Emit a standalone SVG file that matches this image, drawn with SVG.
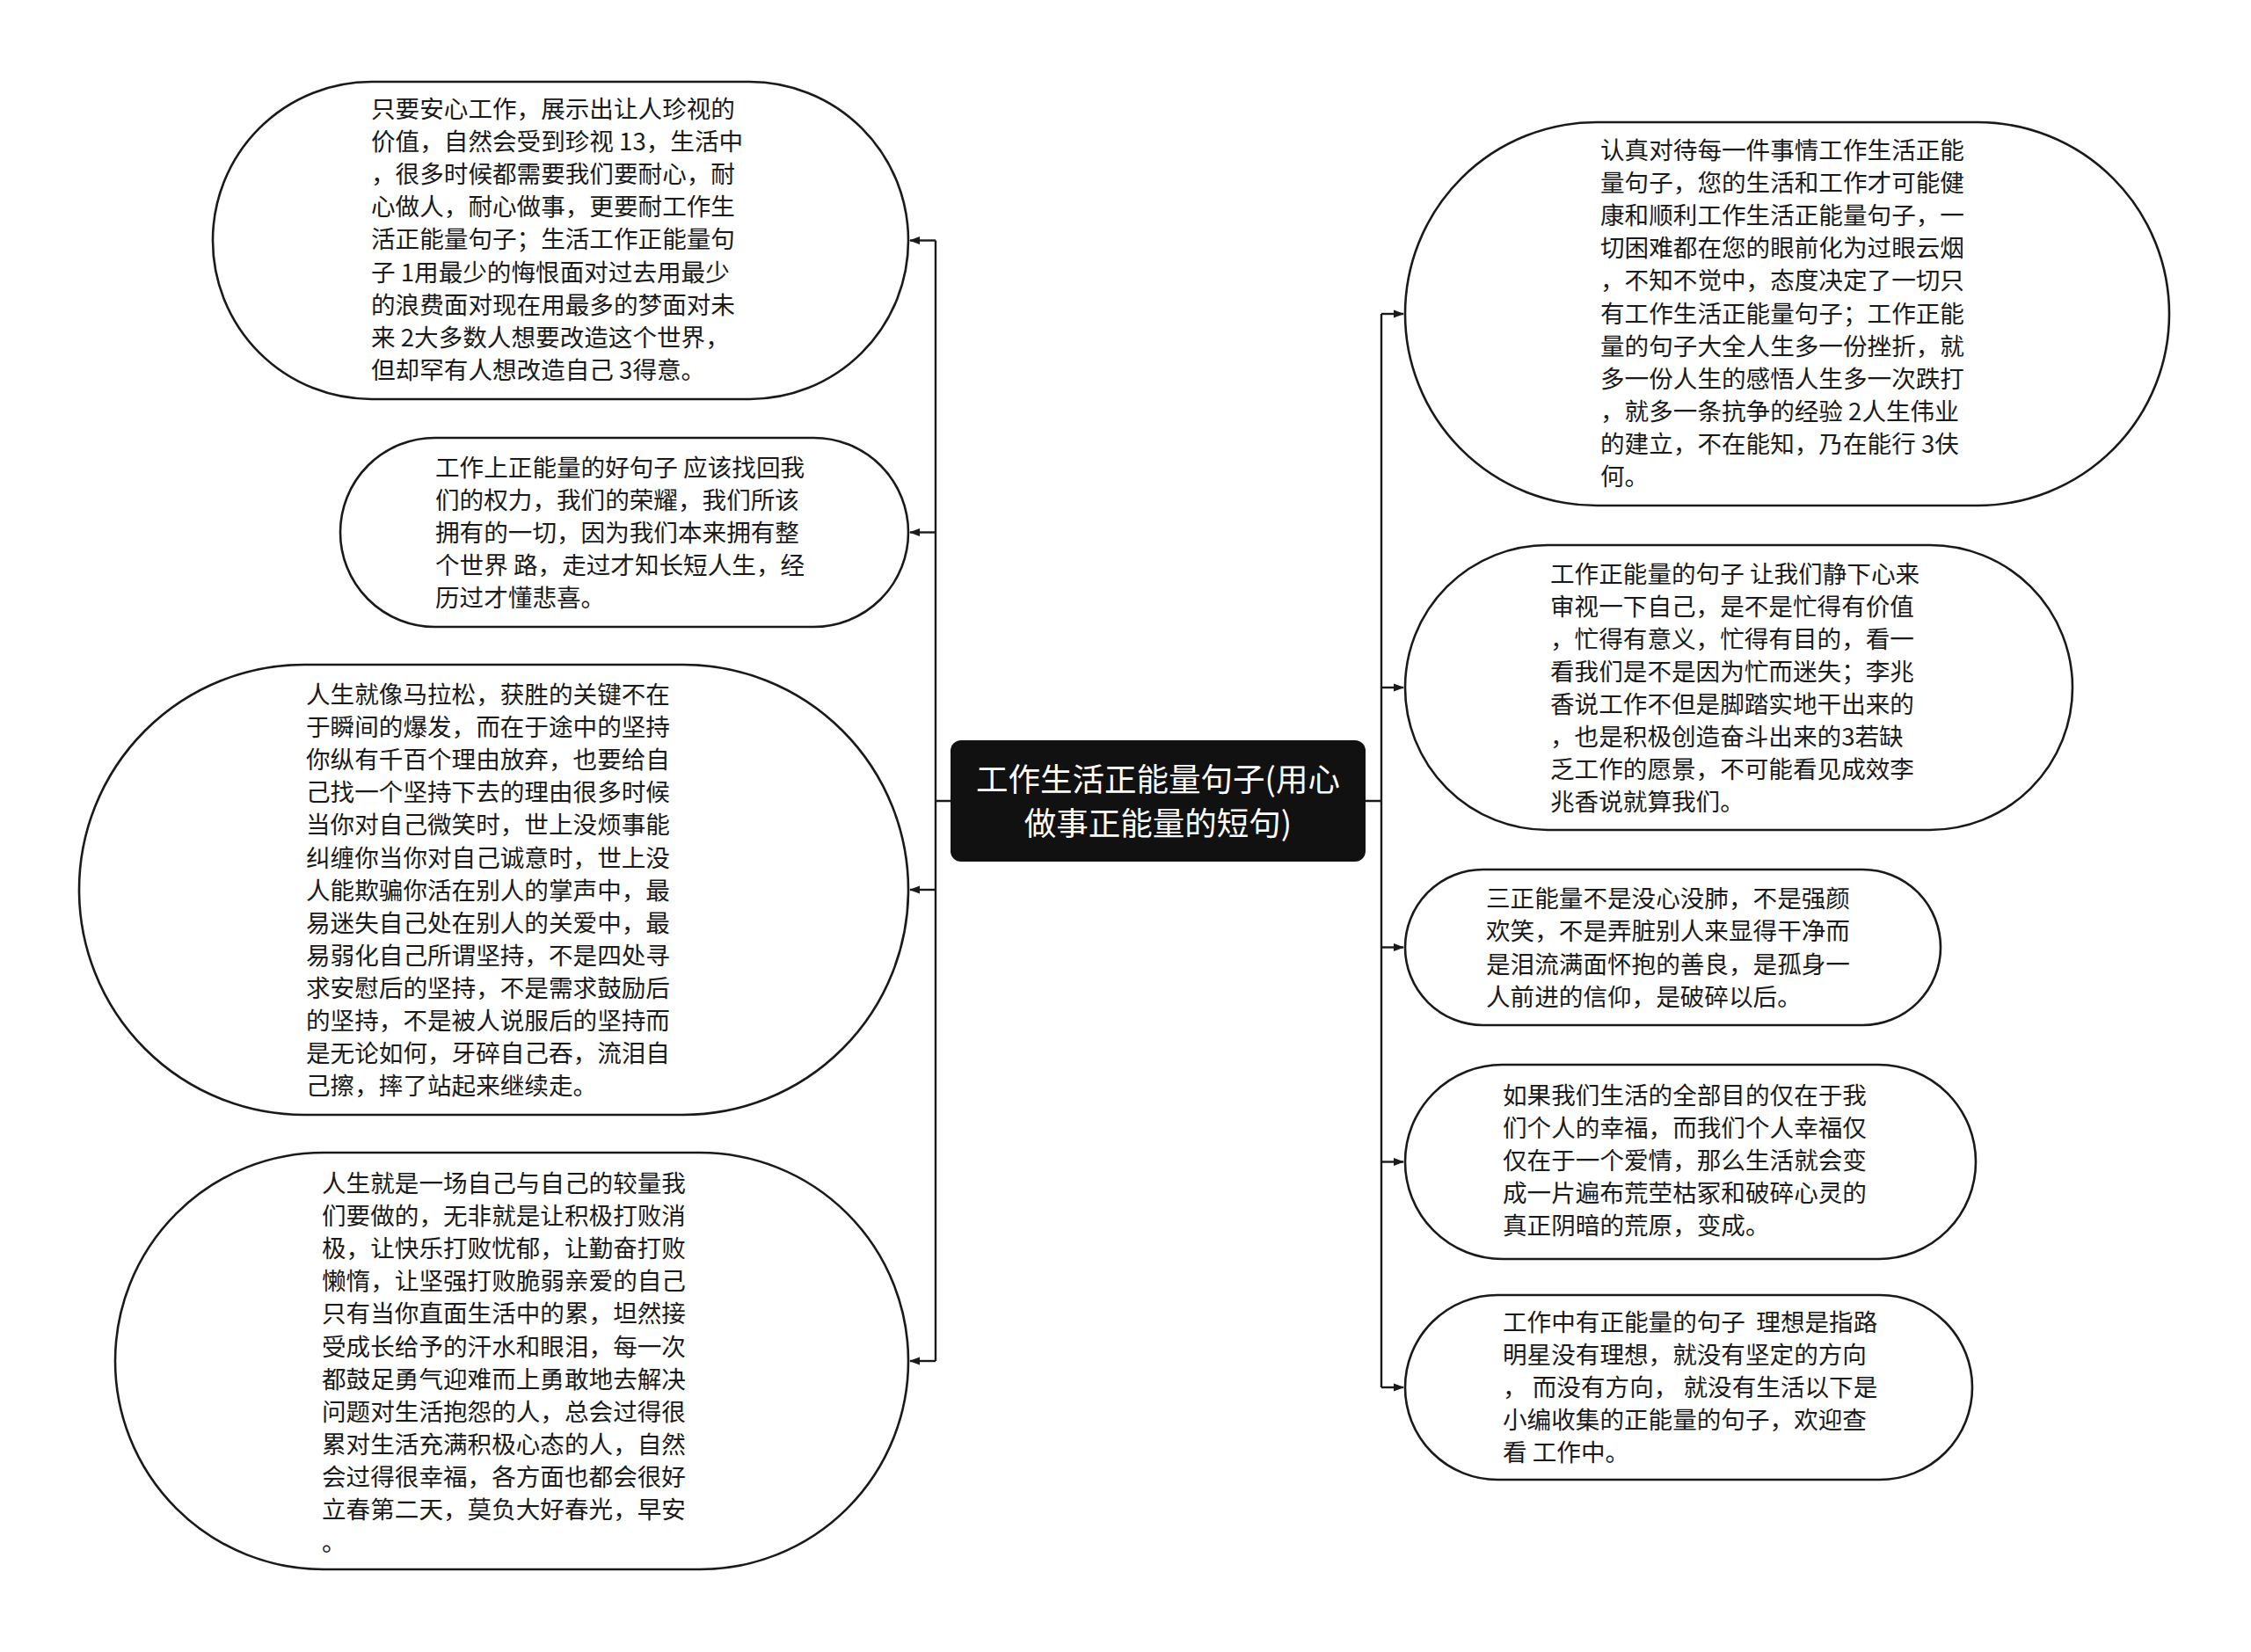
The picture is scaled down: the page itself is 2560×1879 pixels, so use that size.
<svg xmlns="http://www.w3.org/2000/svg" width="2560" height="1879" viewBox="0 0 2560 1879">
<defs>
<marker id="arr" markerWidth="12" markerHeight="10" refX="11" refY="5" orient="auto" markerUnits="userSpaceOnUse"><path d="M0,0.5 L12,5 L0,9.5 z" fill="#1a1a1a"/></marker>
<style>
.node{fill:#fff;stroke:#1a1a1a;stroke-width:2.6}
.t{font-family:"Noto Sans CJK SC","Noto Sans",sans-serif;font-size:27.6px;fill:#1a1a1a}
.c{stroke:#1a1a1a;stroke-width:2.4;fill:none}
.a{marker-end:url(#arr)}
.root{fill:#111}
.rt{font-family:"Noto Sans CJK SC","Noto Sans",sans-serif;font-size:36.5px;fill:#fff;text-anchor:middle}
</style>
</defs>
<rect width="2560" height="1879" fill="#fff"/>
<g id="connectors">
<path class="c" d="M1081,911 H1064 M1064,273.5 V1548 M1553,911 H1571 M1571,357 V1578"/>
<path class="c a" d="M1064,273.5 H1035"/>
<path class="c a" d="M1064,605.5 H1035"/>
<path class="c a" d="M1064,1012 H1035"/>
<path class="c a" d="M1064,1548 H1035"/>
<path class="c a" d="M1571,357 H1596"/>
<path class="c a" d="M1571,782 H1596"/>
<path class="c a" d="M1571,1077.5 H1596"/>
<path class="c a" d="M1571,1321.5 H1596"/>
<path class="c a" d="M1571,1578 H1596"/>
</g>
<g id="root">
<rect class="root" x="1081" y="842" width="472" height="138" rx="12"/>
<text class="rt"><tspan x="1317" y="900">工作生活正能量句子(用心</tspan><tspan x="1317" y="950">做事正能量的短句)</tspan></text>
</g>
<g id="node-l1">
<rect class="node" x="242" y="93" width="791" height="361" rx="180.5"/>
<text class="t" xml:space="preserve"><tspan x="422" y="134">只要安心工作，展示出让人珍视的</tspan><tspan x="422" dy="37.1">价值，自然会受到珍视 13，生活中</tspan><tspan x="422" dy="37.1">，很多时候都需要我们要耐心，耐</tspan><tspan x="422" dy="37.1">心做人，耐心做事，更要耐工作生</tspan><tspan x="422" dy="37.1">活正能量句子；生活工作正能量句</tspan><tspan x="422" dy="37.1">子 1用最少的悔恨面对过去用最少</tspan><tspan x="422" dy="37.1">的浪费面对现在用最多的梦面对未</tspan><tspan x="422" dy="37.1">来 2大多数人想要改造这个世界，</tspan><tspan x="422" dy="37.1">但却罕有人想改造自己 3得意。</tspan></text>
</g>
<g id="node-l2">
<rect class="node" x="387" y="498" width="646" height="215" rx="107.5"/>
<text class="t" xml:space="preserve"><tspan x="495" y="541.8">工作上正能量的好句子 应该找回我</tspan><tspan x="495" dy="37.1">们的权力，我们的荣耀，我们所该</tspan><tspan x="495" dy="37.1">拥有的一切，因为我们本来拥有整</tspan><tspan x="495" dy="37.1">个世界 路，走过才知长短人生，经</tspan><tspan x="495" dy="37.1">历过才懂悲喜。</tspan></text>
</g>
<g id="node-l3">
<rect class="node" x="90" y="756" width="943" height="512" rx="256"/>
<text class="t"><tspan x="348" y="800">人生就像马拉松，获胜的关键不在</tspan><tspan x="348" dy="37.1">于瞬间的爆发，而在于途中的坚持</tspan><tspan x="348" dy="37.1">你纵有千百个理由放弃，也要给自</tspan><tspan x="348" dy="37.1">己找一个坚持下去的理由很多时候</tspan><tspan x="348" dy="37.1">当你对自己微笑时，世上没烦事能</tspan><tspan x="348" dy="37.1">纠缠你当你对自己诚意时，世上没</tspan><tspan x="348" dy="37.1">人能欺骗你活在别人的掌声中，最</tspan><tspan x="348" dy="37.1">易迷失自己处在别人的关爱中，最</tspan><tspan x="348" dy="37.1">易弱化自己所谓坚持，不是四处寻</tspan><tspan x="348" dy="37.1">求安慰后的坚持，不是需求鼓励后</tspan><tspan x="348" dy="37.1">的坚持，不是被人说服后的坚持而</tspan><tspan x="348" dy="37.1">是无论如何，牙碎自己吞，流泪自</tspan><tspan x="348" dy="37.1">己擦，摔了站起来继续走。</tspan></text>
</g>
<g id="node-l4">
<rect class="node" x="131" y="1311" width="902" height="474" rx="237"/>
<text class="t"><tspan x="366" y="1356">人生就是一场自己与自己的较量我</tspan><tspan x="366" dy="37.1">们要做的，无非就是让积极打败消</tspan><tspan x="366" dy="37.1">极，让快乐打败忧郁，让勤奋打败</tspan><tspan x="366" dy="37.1">懒惰，让坚强打败脆弱亲爱的自己</tspan><tspan x="366" dy="37.1">只有当你直面生活中的累，坦然接</tspan><tspan x="366" dy="37.1">受成长给予的汗水和眼泪，每一次</tspan><tspan x="366" dy="37.1">都鼓足勇气迎难而上勇敢地去解决</tspan><tspan x="366" dy="37.1">问题对生活抱怨的人，总会过得很</tspan><tspan x="366" dy="37.1">累对生活充满积极心态的人，自然</tspan><tspan x="366" dy="37.1">会过得很幸福，各方面也都会很好</tspan><tspan x="366" dy="37.1">立春第二天，莫负大好春光，早安</tspan><tspan x="366" dy="37.1">。</tspan></text>
</g>
<g id="node-r1">
<rect class="node" x="1598" y="139" width="869" height="436" rx="218"/>
<text class="t" xml:space="preserve"><tspan x="1820" y="181">认真对待每一件事情工作生活正能</tspan><tspan x="1820" dy="37.1">量句子，您的生活和工作才可能健</tspan><tspan x="1820" dy="37.1">康和顺利工作生活正能量句子，一</tspan><tspan x="1820" dy="37.1">切困难都在您的眼前化为过眼云烟</tspan><tspan x="1820" dy="37.1">，不知不觉中，态度决定了一切只</tspan><tspan x="1820" dy="37.1">有工作生活正能量句子；工作正能</tspan><tspan x="1820" dy="37.1">量的句子大全人生多一份挫折，就</tspan><tspan x="1820" dy="37.1">多一份人生的感悟人生多一次跌打</tspan><tspan x="1820" dy="37.1">，就多一条抗争的经验 2人生伟业</tspan><tspan x="1820" dy="37.1">的建立，不在能知，乃在能行 3伕</tspan><tspan x="1820" dy="37.1">何。</tspan></text>
</g>
<g id="node-r2">
<rect class="node" x="1598" y="620" width="759" height="324" rx="162"/>
<text class="t" xml:space="preserve"><tspan x="1763" y="662.5">工作正能量的句子 让我们静下心来</tspan><tspan x="1763" dy="37.1">审视一下自己，是不是忙得有价值</tspan><tspan x="1763" dy="37.1">，忙得有意义，忙得有目的，看一</tspan><tspan x="1763" dy="37.1">看我们是不是因为忙而迷失；李兆</tspan><tspan x="1763" dy="37.1">香说工作不但是脚踏实地干出来的</tspan><tspan x="1763" dy="37.1">，也是积极创造奋斗出来的3若缺</tspan><tspan x="1763" dy="37.1">乏工作的愿景，不可能看见成效李</tspan><tspan x="1763" dy="37.1">兆香说就算我们。</tspan></text>
</g>
<g id="node-r3">
<rect class="node" x="1598" y="989" width="609" height="177" rx="88.5"/>
<text class="t"><tspan x="1690" y="1032.3">三正能量不是没心没肺，不是强颜</tspan><tspan x="1690" dy="37.1">欢笑，不是弄脏别人来显得干净而</tspan><tspan x="1690" dy="37.1">是泪流满面怀抱的善良，是孤身一</tspan><tspan x="1690" dy="37.1">人前进的信仰，是破碎以后。</tspan></text>
</g>
<g id="node-r4">
<rect class="node" x="1598" y="1211" width="649" height="221" rx="110.5"/>
<text class="t"><tspan x="1709" y="1255.5">如果我们生活的全部目的仅在于我</tspan><tspan x="1709" dy="37.1">们个人的幸福，而我们个人幸福仅</tspan><tspan x="1709" dy="37.1">仅在于一个爱情，那么生活就会变</tspan><tspan x="1709" dy="37.1">成一片遍布荒茔枯冢和破碎心灵的</tspan><tspan x="1709" dy="37.1">真正阴暗的荒原，变成。</tspan></text>
</g>
<g id="node-r5">
<rect class="node" x="1598" y="1473" width="645" height="210" rx="105"/>
<text class="t" xml:space="preserve"><tspan x="1709" y="1513.5">工作中有正能量的句子  理想是指路</tspan><tspan x="1709" dy="37.1">明星没有理想，就没有坚定的方向</tspan><tspan x="1709" dy="37.1">， 而没有方向， 就没有生活以下是</tspan><tspan x="1709" dy="37.1">小编收集的正能量的句子，欢迎查</tspan><tspan x="1709" dy="37.1">看 工作中。</tspan></text>
</g>
</svg>
